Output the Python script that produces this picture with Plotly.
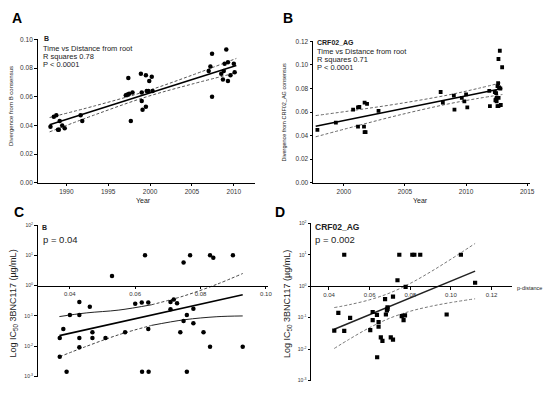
import plotly.graph_objects as go

W, H = 550, 395
def fx(p): return p / W
def fy(p): return 1 - p / H

FONT = "Liberation Sans, Arial, sans-serif"

# ---------------- Panel A (subtype B) ----------------
A_year = [1988.1, 1988.5, 1988.8, 1989.0, 1989.2, 1989.1, 1989.5, 1989.8, 1991.7, 1991.9,
          1997.1, 1997.3, 1997.4, 1997.5, 1997.7, 1997.9, 1998.9, 1999.0, 1999.0, 1999.1,
          1999.5, 1999.5, 1999.6, 1999.8, 1999.9, 2000.2, 2000.3,
          2007.0, 2007.2, 2007.4, 2007.4, 2008.5, 2008.7, 2008.8, 2008.9, 2009.1, 2009.3,
          2009.3, 2009.6, 2010.0, 2010.1]
A_div = [0.039, 0.046, 0.047, 0.037, 0.043, 0.037, 0.040, 0.038, 0.047, 0.043,
         0.061, 0.0615, 0.073, 0.062, 0.043, 0.063, 0.076, 0.063, 0.057, 0.051,
         0.053, 0.075, 0.064, 0.064, 0.071, 0.074, 0.064,
         0.078, 0.081, 0.090, 0.060, 0.076, 0.072, 0.078, 0.083, 0.093, 0.084,
         0.071, 0.075, 0.083, 0.077]
A_fit_x = [1988.0, 2010.3]
A_fit_y = [0.0405, 0.0817]
A_band_x = [1988.0, 1993.5, 1999.5, 2005.0, 2010.3]
A_band_hi = [0.0455, 0.0538, 0.0638, 0.0750, 0.0867]
A_band_lo = [0.0355, 0.0476, 0.0598, 0.0688, 0.0767]

# ---------------- Panel B (CRF02_AG) ----------------
B_year = [1997.84, 1999.35, 2000.76, 2001.16, 2001.27, 2001.16, 2001.7, 2001.9, 2001.65, 2001.7,
          2001.78, 2002.84, 2007.92, 2008.1, 2009.0, 2009.05, 2009.65, 2009.86, 2010.0, 2010.1,
          2011.9, 2011.95, 2012.35, 2012.4, 2012.46, 2012.46, 2012.5, 2012.57, 2012.62, 2012.65,
          2012.57, 2012.65, 2012.7, 2012.76, 2012.8, 2012.84, 2012.95, 2012.5, 2012.66]
B_div = [0.0449, 0.051, 0.062, 0.064, 0.0643, 0.0477, 0.068, 0.067, 0.0477, 0.043,
         0.043, 0.061, 0.077, 0.068, 0.074, 0.062, 0.072, 0.069, 0.075, 0.064,
         0.078, 0.065, 0.077, 0.070, 0.076, 0.0707, 0.069, 0.082, 0.0845, 0.105,
         0.065, 0.065, 0.081, 0.112, 0.080, 0.066, 0.098, 0.072, 0.072]
B_fit_x = [1997.7, 2012.97]
B_fit_y = [0.0480, 0.0800]
B_band_x = [1997.7, 2001.0, 2004.5, 2008.5, 2011.0, 2012.97]
B_band_hi = [0.0570, 0.0617, 0.0671, 0.0744, 0.0801, 0.0851]
B_band_lo = [0.0390, 0.0481, 0.0574, 0.0668, 0.0716, 0.0749]

# ---------------- Panel C (subtype B, IC50 vs p-distance) ----------------
C_pdist = [0.0529, 0.0630, 0.0748, 0.0768, 0.0829, 0.0839, 0.0899,
           0.0429, 0.0461, 0.0400, 0.0429, 0.0380, 0.0369, 0.0429, 0.0429, 0.0469, 0.0469,
           0.0509, 0.0569, 0.0369, 0.0390,
           0.0600, 0.0620, 0.0640, 0.0621, 0.0641, 0.0640,
           0.0708, 0.0718, 0.0728, 0.0708, 0.0778, 0.0758, 0.0748, 0.0778, 0.0738, 0.0809,
           0.0829, 0.0929, 0.0758]
C_log_ic50 = [0.32, 1.0, 0.76, 1.0, 1.0, 0.92, 1.0,
              -0.54, -0.70, -0.97, -0.97, -1.43, -1.73, -1.73, -2.03, -1.54, -1.73,
              -1.73, -1.54, -2.35, -2.84,
              -0.60, -0.56, -0.56, -2.84, -2.84, -1.43,
              -0.54, -0.46, -0.58, -0.78, -0.76, -0.97, -1.17, -1.24, -1.54, -1.54,
              -2.02, -2.02, -2.84]
C_fit_x = [0.0368, 0.0929]
C_fit_log = [-1.65, -0.30]
C_band_x1 = [0.0368, 0.045, 0.055, 0.065]
C_band_x2 = [0.065, 0.075, 0.085, 0.0929]
C_hi_1 = [-1.02, -0.90, -0.806, -0.631]
C_hi_2 = [-0.631, -0.336, 0.045, 0.40]
C_lo_1 = [-2.347, -2.005, -1.618, -1.311]
C_lo_2 = [-1.311, -1.126, -1.025, -1.00]

# ---------------- Panel D (CRF02_AG, IC50 vs p-distance) ----------------
D_pdist = [0.0475, 0.0746, 0.0810, 0.0820, 0.0849, 0.1049, 0.0737, 0.0777, 0.1119,
           0.0676, 0.0715, 0.0688, 0.0688, 0.0685, 0.0680, 0.0615, 0.0636, 0.0615, 0.0644,
           0.0644, 0.0603, 0.0655, 0.0663, 0.0704, 0.0715, 0.0637, 0.0446, 0.0504, 0.0426,
           0.0475, 0.0758, 0.0767, 0.0774, 0.0979]
D_log_ic50 = [1.0, 1.0, 1.0, 1.0, 1.0, 1.0, 0.19, -0.02, 0.11,
              -0.41, -0.33, -0.67, -0.72, -0.77, -0.90, -0.82, -0.91, -1.08, -1.14,
              -1.29, -1.40, -1.63, -1.74, -1.63, -1.70, -2.26, -0.85, -1.01, -1.41,
              -1.42, -0.95, -1.08, -0.93, -0.90]
D_fit_x = [0.0426, 0.1119]
D_fit_log = [-1.37, 0.48]
D_band_x = [0.0426, 0.05, 0.06, 0.07, 0.08, 0.09, 0.10, 0.1119]
D_hi = [-0.68, -0.588, -0.432, -0.213, 0.090, 0.457, 0.859, 1.360]
D_lo = [-1.98, -1.686, -1.318, -1.015, -0.796, -0.641, -0.519, -0.400]

log_tickvals = [1e-3, 1e-2, 1e-1, 1e0, 1e1, 1e2]
log_ticktext = ["10<sup>-3</sup>", "10<sup>-2</sup>", "10<sup>-1</sup>", "10<sup>0</sup>",
                "10<sup>1</sup>", "10<sup>2</sup>"]

def p10(v): return [10 ** t for t in v]

fig = go.Figure()

def line(x, y, xa, ya, color="black", width=1.6, dash="solid", shape="linear"):
    fig.add_trace(go.Scatter(x=x, y=y, xaxis=xa, yaxis=ya, mode="lines",
                             line=dict(color=color, width=width, dash=dash, shape=shape),
                             hoverinfo="skip"))

def pts(x, y, xa, ya, symbol, size):
    fig.add_trace(go.Scatter(x=x, y=y, xaxis=xa, yaxis=ya, mode="markers",
                             marker=dict(color="black", size=size, symbol=symbol, line=dict(width=0))))

DASH = "3px,2px"
# A
line(A_band_x, A_band_hi, "x", "y", "#555", 1, DASH, "spline")
line(A_band_x, A_band_lo, "x", "y", "#555", 1, DASH, "spline")
line(A_fit_x, A_fit_y, "x", "y")
pts(A_year, A_div, "x", "y", "circle", 4.5)
# B
line(B_band_x, B_band_hi, "x2", "y2", "#666", 1, DASH, "spline")
line(B_band_x, B_band_lo, "x2", "y2", "#666", 1, DASH, "spline")
line(B_fit_x, B_fit_y, "x2", "y2")
pts(B_year, B_div, "x2", "y2", "square", 3.8)
# C
line(C_band_x1, p10(C_hi_1), "x3", "y3", "#222", 1, "solid", "spline")
line(C_band_x2, p10(C_hi_2), "x3", "y3", "#444", 1, DASH, "spline")
line(C_band_x1, p10(C_lo_1), "x3", "y3", "#444", 1, DASH, "spline")
line(C_band_x2, p10(C_lo_2), "x3", "y3", "#222", 1, "solid", "spline")
line(C_fit_x, p10(C_fit_log), "x3", "y3", "black", 1.6)
pts(C_pdist, p10(C_log_ic50), "x3", "y3", "circle", 4.5)
# D
line(D_band_x, p10(D_hi), "x4", "y4", "#777", 1, DASH, "spline")
line(D_band_x, p10(D_lo), "x4", "y4", "#777", 1, DASH, "spline")
line(D_fit_x, p10(D_fit_log), "x4", "y4", "#222", 1.6)
pts(D_pdist, p10(D_log_ic50), "x4", "y4", "square", 4.2)

tickfont = dict(family=FONT, size=6.5, color="#333")
smallfont = dict(family=FONT, size=5, color="#333")
base = dict(showgrid=False, zeroline=False, showline=True, linecolor="black", linewidth=1.2,
            ticks="outside", ticklen=2.5, tickwidth=1, tickcolor="black")

C_y0, C_y1 = 379.3, 225.0
D_y0, D_y1 = 383.3, 223.3

fig.update_layout(
    width=W, height=H, margin=dict(l=0, r=0, t=0, b=0),
    paper_bgcolor="white", plot_bgcolor="white", showlegend=False,
    font=dict(family=FONT, color="#222"),
    xaxis=dict(base, domain=[fx(38), fx(257)], range=[1986.57, 2012.49], anchor="y",
               tickvals=[1990, 1995, 2000, 2005, 2010], tickfont=tickfont),
    yaxis=dict(base, domain=[fy(182), fy(36)], range=[0, 0.10], anchor="x",
               tickvals=[0, 0.02, 0.04, 0.06, 0.08, 0.10], tickformat=".2f", tickfont=tickfont),
    xaxis2=dict(base, domain=[fx(316), fx(535)], range=[1997.49, 2015.24], anchor="y2",
                tickvals=[2000, 2005, 2010, 2015], tickfont=tickfont),
    yaxis2=dict(base, domain=[fy(182), fy(38)], range=[0, 0.12], anchor="x2",
                tickvals=[0, 0.02, 0.04, 0.06, 0.08, 0.10, 0.12], tickformat=".2f", tickfont=tickfont),
    xaxis3=dict(base, domain=[fx(38), fx(270)], range=[0.03014, 0.1005], anchor="free",
                position=fy(C_y1 + 2 * (C_y0 - C_y1) / 5),
                tickvals=[0.04, 0.06, 0.08, 0.10], tickformat=".2f", tickfont=dict(tickfont, size=6)),
    yaxis3=dict(base, domain=[fy(C_y0), fy(C_y1)], type="log", range=[-3, 2], anchor="x3",
                tickvals=log_tickvals, ticktext=log_ticktext, tickfont=smallfont),
    xaxis4=dict(base, domain=[fx(314), fx(517)], range=[0.03122, 0.1302], anchor="free",
                position=fy(D_y1 + 2 * (D_y0 - D_y1) / 5),
                tickvals=[0.04, 0.06, 0.08, 0.10, 0.12], tickformat=".2f", tickfont=dict(tickfont, size=6)),
    yaxis4=dict(base, domain=[fy(D_y0), fy(D_y1)], type="log", range=[-3, 2], anchor="x4",
                tickvals=log_tickvals, ticktext=log_ticktext, tickfont=smallfont),
)

def ann(text, x, y, size, xanchor="left", angle=0, bold=False, color="#222"):
    fig.add_annotation(text=f"<b>{text}</b>" if bold else text, x=fx(x), y=fy(y),
                       xref="paper", yref="paper", showarrow=False, xanchor=xanchor,
                       yanchor="middle", textangle=angle,
                       font=dict(family=FONT, size=size, color=color))

# panel letters
ann("A", 10, 14, 14, bold=True, color="black")
ann("B", 284, 14, 14, bold=True, color="black")
ann("C", 12, 212, 14, bold=True, color="black")
ann("D", 275, 212, 14, bold=True, color="black")

# Panel A texts
ann("B", 42, 35, 7, bold=True)
ann("Time vs Distance from root", 41, 45.5, 7.5)
ann("R squares 0.78", 41, 53.5, 7.5)
ann("P < 0.0001", 41, 62, 7.5)
ann("Divergence from B consensus", 11, 104, 6, xanchor="center", angle=-90)
ann("Year", 145, 200, 7, xanchor="center")

# Panel B texts
ann("CRF02_AG", 318, 39, 7, bold=True)
ann("Time vs Distance from root", 318, 48, 7.5)
ann("R squares 0.71", 318, 56.5, 7.5)
ann("P < 0.0001", 318, 65, 7.5)
ann("Divergence from CRF02_AG consensus", 287, 110, 5.5, xanchor="center", angle=-90)
ann("Year", 424, 200, 7, xanchor="center")

# Panel C texts
ann("B", 40, 228, 7, bold=True)
ann("p = 0.04", 41, 240, 9.5)
ann("Log IC<sub>50</sub> 3BNC117 (µg/mL)", 14, 305, 9, xanchor="center", angle=-90)

# Panel D texts
ann("CRF02_AG", 316, 227, 8.5, bold=True)
ann("p = 0.002", 316, 240, 9.5)
ann("Log IC<sub>50</sub> 3BNC117 (µg/mL)", 290, 305, 9, xanchor="center", angle=-90)
ann("p-distance", 520, 289, 5.5)

fig.write_html("out.html", config={"displayModeBar": False},
               post_script="document.body.style.margin='0';document.body.style.overflow='hidden';")
